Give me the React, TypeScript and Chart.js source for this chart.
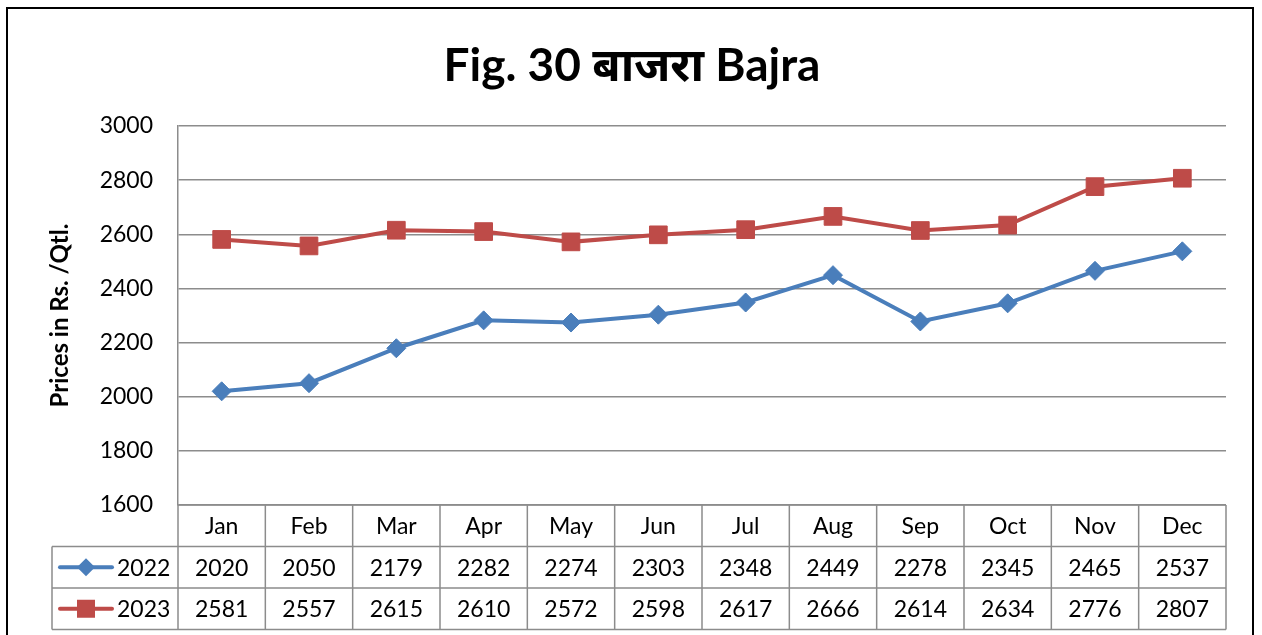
import React, { useEffect, useRef } from "react";
import { Chart, registerables } from "chart.js";

Chart.register(...registerables);

const TITLE = "Fig. 30 बाजरा Bajra";
const Y_TITLE = "Prices in Rs. /Qtl.";
const MONTHS = ["Jan", "Feb", "Mar", "Apr", "May", "Jun", "Jul", "Aug", "Sep", "Oct", "Nov", "Dec"];
const SERIES_NAMES = ["2022", "2023"];
const VALUES_2022 = [2020, 2050, 2179, 2282, 2274, 2303, 2348, 2449, 2278, 2345, 2465, 2537];
const VALUES_2023 = [2581, 2557, 2615, 2610, 2572, 2598, 2617, 2666, 2614, 2634, 2776, 2807];
const Y_MIN = 1600;
const Y_MAX = 3000;
const Y_STEP = 200;

const BLUE = "#4A7EBB";
const RED = "#BE4B48";
const GRID = "#8c8c8c";
const FONT = 'Lato, "Noto Sans", sans-serif';

const frame = {
  id: "frame",
  beforeDraw(chart: any) {
    const ctx = chart.ctx;
    ctx.save();
    ctx.fillStyle = "#fff";
    ctx.fillRect(0, 0, chart.width, chart.height);
    ctx.strokeStyle = "#000";
    ctx.lineWidth = 2;
    ctx.strokeRect(7, 8, 1246, 700);
    ctx.fillStyle = "#000";
    ctx.font = `bold 46px ${FONT}`;
    ctx.textAlign = "center";
    ctx.textBaseline = "middle";
    ctx.fillText(TITLE, 632, 66);
    ctx.restore();
  },
};

const dataTable = {
  id: "dataTable",
  afterDraw(chart: any) {
    const ctx = chart.ctx;
    const x = chart.scales.x;
    const area = chart.chartArea;
    const colW = (area.right - area.left) / MONTHS.length;
    const rowH = 41.5;
    const top = area.bottom;
    const r1 = top + rowH;
    const r2 = r1 + rowH;
    const r3 = r2 + rowH;
    const legendLeft = 52;
    ctx.save();
    ctx.strokeStyle = GRID;
    ctx.lineWidth = 1.5;
    ctx.beginPath();
    ctx.moveTo(area.left, top);
    ctx.lineTo(area.right, top);
    [r1, r2, r3].forEach((yy) => {
      ctx.moveTo(legendLeft, yy);
      ctx.lineTo(area.right, yy);
    });
    ctx.moveTo(legendLeft, r1);
    ctx.lineTo(legendLeft, r3);
    ctx.moveTo(area.left, top);
    ctx.lineTo(area.left, r3);
    for (let i = 0; i < MONTHS.length; i++) {
      const xr = x.getPixelForValue(i) + colW / 2;
      ctx.moveTo(xr, top);
      ctx.lineTo(xr, r3);
    }
    ctx.stroke();

    ctx.fillStyle = "#000";
    ctx.font = `23px ${FONT}`;
    ctx.textAlign = "center";
    ctx.textBaseline = "middle";
    const rows = [VALUES_2022, VALUES_2023];
    MONTHS.forEach((m, i) => {
      const cx = x.getPixelForValue(i);
      ctx.fillText(m, cx, (top + r1) / 2 + 1);
      ctx.fillText(String(rows[0][i]), cx, (r1 + r2) / 2 + 1);
      ctx.fillText(String(rows[1][i]), cx, (r2 + r3) / 2 + 1);
    });

    const ys = [(r1 + r2) / 2, (r2 + r3) / 2];
    const colors = [BLUE, RED];
    SERIES_NAMES.forEach((name, k) => {
      const yy = ys[k];
      ctx.strokeStyle = colors[k];
      ctx.lineWidth = 4;
      ctx.lineCap = "round";
      ctx.beginPath();
      ctx.moveTo(60, yy);
      ctx.lineTo(112, yy);
      ctx.stroke();
      ctx.fillStyle = colors[k];
      ctx.beginPath();
      if (k === 0) {
        ctx.moveTo(86, yy - 9);
        ctx.lineTo(95, yy);
        ctx.lineTo(86, yy + 9);
        ctx.lineTo(77, yy);
        ctx.closePath();
      } else {
        ctx.rect(77, yy - 9, 18, 18);
      }
      ctx.fill();
      ctx.fillStyle = "#000";
      ctx.textAlign = "left";
      ctx.fillText(name, 117, yy + 1);
    });
    ctx.restore();
  },
};

export default function App() {
  const ref = useRef<HTMLCanvasElement>(null);
  useEffect(() => {
    if (!ref.current) return;
    Chart.defaults.color = "#000";
    const chart = new Chart(ref.current, {
      type: "line",
      data: {
        labels: MONTHS,
        datasets: [
          {
            label: SERIES_NAMES[0],
            data: VALUES_2022,
            borderColor: BLUE,
            backgroundColor: BLUE,
            borderWidth: 4,
            pointStyle: "rectRot",
            pointRadius: 9.5,
            pointBorderWidth: 1,
            tension: 0,
          },
          {
            label: SERIES_NAMES[1],
            data: VALUES_2023,
            borderColor: RED,
            backgroundColor: RED,
            borderWidth: 4,
            pointStyle: "rect",
            pointRadius: 12.5,
            pointBorderWidth: 1,
            tension: 0,
          },
        ],
      },
      options: {
        responsive: false,
        animation: false,
        layout: { padding: { left: 0, right: 36, top: 126, bottom: 130 } },
        plugins: {
          legend: { display: false },
          tooltip: { enabled: false },
          title: { display: false },
        },
        scales: {
          x: {
            type: "category",
            offset: true,
            display: false,
          },
          y: {
            min: Y_MIN,
            max: Y_MAX,
            afterFit: (scale: any) => {
              scale.width = 178;
            },
            ticks: {
              stepSize: Y_STEP,
              padding: 25,
              color: "#000",
              font: { family: FONT, size: 23 },
              callback: (v: any) => String(v),
            },
            grid: { color: GRID, lineWidth: 1.5, drawTicks: false },
            border: { display: true, color: GRID, width: 1.5 },
            title: {
              display: true,
              text: Y_TITLE,
              color: "#000",
              font: { family: FONT, size: 24, weight: "bold" },
              padding: { top: 46, bottom: 0 },
            },
          },
        },
      },
      plugins: [frame, dataTable],
    });
    return () => chart.destroy();
  }, []);
  return (
    <canvas
      ref={ref}
      width={1262}
      height={635}
      style={{ position: "fixed", left: 0, top: 0, display: "block" }}
    />
  );
}
